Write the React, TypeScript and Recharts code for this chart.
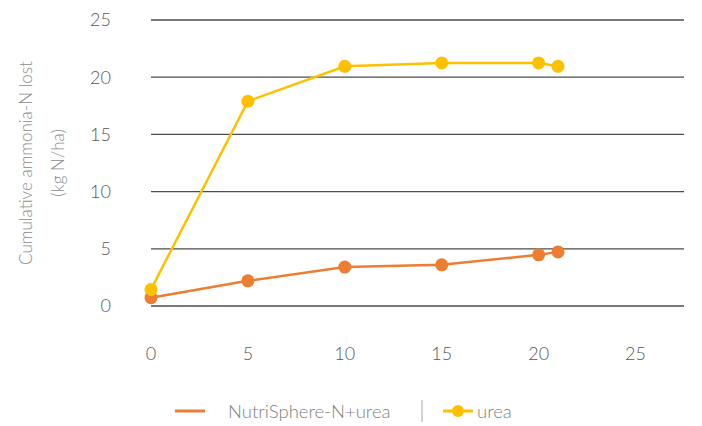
import React from 'react';
import { LineChart, Line, XAxis, YAxis, CartesianGrid, Legend } from 'recharts';

const days = [0, 5, 10, 15, 20, 21];
const nutriSphere = [0.73, 2.2, 3.4, 3.6, 4.47, 4.73];
const urea = [1.45, 17.9, 20.95, 21.25, 21.25, 20.95];
const xTicks = [0, 5, 10, 15, 20, 25];
const yTicks = [0, 5, 10, 15, 20, 25];
const seriesNames = ['NutriSphere-N+urea', 'urea'];
const yLabelLines = ['Cumulative ammonia-N lost', '(kg N/ha)'];

const data = days.map((d, i) => ({ day: d, nsn: nutriSphere[i], urea: urea[i] }));

const ORANGE = '#ED7D31';
const YELLOW = '#FFC000';
const FONT = 'Lato, "Open Sans", sans-serif';

const YLabel = (props: any) => {
  const vb = props.viewBox || {};
  const cy = vb.y + vb.height / 2;
  return (
    <g>
      <text x={25} y={cy} transform={`rotate(-90 25 ${cy})`} textAnchor="middle" dominantBaseline="central"
        fill="#8c8c8c" fontSize={17} fontWeight={300} fontFamily={FONT}>{yLabelLines[0]}</text>
      <text x={57} y={cy} transform={`rotate(-90 57 ${cy})`} textAnchor="middle" dominantBaseline="central"
        fill="#8c8c8c" fontSize={17} fontWeight={300} fontFamily={FONT}>{yLabelLines[1]}</text>
    </g>
  );
};

const LegendContent = () => (
  <div style={{ position: 'relative', height: 24 }}>
    <svg width={702} height={24} style={{ position: 'absolute', left: 0, top: 0 }}>
      <line x1={175} x2={205} y1={12} y2={12} stroke={ORANGE} strokeWidth={3} />
      <text x={228} y={12} dominantBaseline="central" fill="#7f7f7f" fontSize={18.5} fontWeight={300} fontFamily={FONT}>{seriesNames[0]}</text>
      <line x1={422} x2={422} y1={1} y2={23} stroke="#a6a6a6" strokeWidth={1} />
      <line x1={443} x2={473} y1={12} y2={12} stroke={YELLOW} strokeWidth={3} />
      <circle cx={458} cy={12} r={6} fill={YELLOW} />
      <text x={477} y={12} dominantBaseline="central" fill="#7f7f7f" fontSize={18.5} fontWeight={300} fontFamily={FONT}>{seriesNames[1]}</text>
    </svg>
  </div>
);

export default function App() {
  return (
    <div style={{ position: 'absolute', left: 0, top: 0, width: 702, height: 426, background: '#fff' }}>
      <LineChart width={702} height={426} data={data} margin={{ top: 20, right: 18, bottom: 3, left: 0 }}>
        <CartesianGrid vertical={false} stroke="#4d4d4d" strokeWidth={1.3} />
        <XAxis dataKey="day" type="number" domain={[0, 27.5]} ticks={xTicks} axisLine={false} tickLine={false}
          tickSize={0} tickMargin={41} height={93} interval={0}
          tick={{ fill: '#595959', fontSize: 18, fontFamily: FONT, fontWeight: 300 }} />
        <YAxis type="number" domain={[0, 25]} ticks={yTicks} axisLine={false} tickLine={false}
          tickSize={0} tickMargin={40} width={151} interval={0}
          tick={{ fill: '#595959', fontSize: 18, fontFamily: FONT, fontWeight: 300 }}
          label={{ content: YLabel }} />
        <Legend verticalAlign="bottom" align="left" height={24} content={LegendContent}
          wrapperStyle={{ left: 0, width: 702 }} />
        <Line dataKey="nsn" name={seriesNames[0]} stroke={ORANGE} strokeWidth={2.5} isAnimationActive={false}
          dot={{ r: 6.5, fill: ORANGE, stroke: ORANGE, strokeWidth: 0 }} activeDot={false} />
        <Line dataKey="urea" name={seriesNames[1]} stroke={YELLOW} strokeWidth={2.5} isAnimationActive={false}
          dot={{ r: 6.5, fill: YELLOW, stroke: YELLOW, strokeWidth: 0 }} activeDot={false} />
      </LineChart>
    </div>
  );
}
